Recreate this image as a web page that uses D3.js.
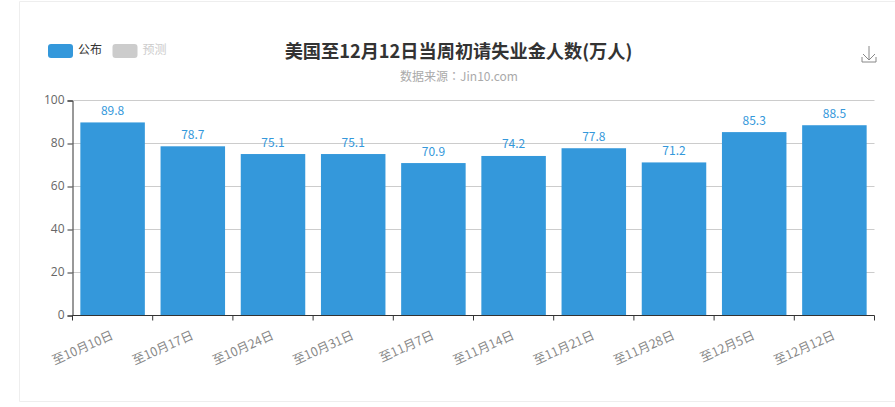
<!DOCTYPE html>
<html>
<head>
<meta charset="utf-8">
<script src="https://cdn.jsdelivr.net/npm/d3@7"></script>
<style>
  html, body { margin: 0; padding: 0; background: #fff; overflow: hidden; }
  text { font-family: "Noto Sans CJK SC", "Open Sans", sans-serif; }
</style>
</head>
<body>
<svg id="chart"></svg>
<script>
const categories = ['至10月10日', '至10月17日', '至10月24日', '至10月31日', '至11月7日',
  '至11月14日', '至11月21日', '至11月28日', '至12月5日', '至12月12日'];
const published = [89.8, 78.7, 75.1, 75.1, 70.9, 74.2, 77.8, 71.2, 85.3, 88.5];
const yTicks = [0, 20, 40, 60, 80, 100];
const legendItems = [
  { name: '公布', color: '#3498db', text: '#333' },
  { name: '预测', color: '#cccccc', text: '#ccc' }
];
const chartTitle = '美国至12月12日当周初请失业金人数(万人)';
const chartSource = '数据来源：Jin10.com';

const width = 895, height = 407;
const plot = { left: 72.5, right: 874.5, top: 100.5, bottom: 315.5 };

const svg = d3.select('#chart').attr('width', width).attr('height', height)
  .style('display', 'block');

// Card border, only three sides are visible in the window
svg.append('path')
  .attr('d', `M ${width},1.5 H 19.5 V 401.5 H ${width}`)
  .attr('fill', 'none')
  .attr('stroke', '#eeeeee');

const x = d3.scaleBand().domain(categories).range([plot.left, plot.right]);
const y = d3.scaleLinear().domain([0, 100]).range([plot.bottom, plot.top]);
const barWidth = 64.5;

// Grid
svg.append('g').selectAll('line')
  .data(yTicks.filter(d => d > 0))
  .enter().append('line')
  .attr('x1', plot.left).attr('x2', plot.right)
  .attr('y1', d => y(d)).attr('y2', d => y(d))
  .attr('stroke', '#cccccc');

// Bars
svg.append('g').selectAll('rect')
  .data(published)
  .enter().append('rect')
  .attr('x', (d, i) => x(categories[i]) + (x.bandwidth() - barWidth) / 2)
  .attr('y', d => y(d))
  .attr('width', barWidth)
  .attr('height', d => y(0) - y(d))
  .attr('fill', '#3498db');

// Value labels
svg.append('g').selectAll('text')
  .data(published)
  .enter().append('text')
  .text(d => d.toFixed(1))
  .attr('x', (d, i) => x(categories[i]) + x.bandwidth() / 2)
  .attr('y', d => y(d) - 7.5)
  .attr('text-anchor', 'middle')
  .attr('font-size', 12)
  .attr('fill', '#3498db');

// Y axis
const yAxis = svg.append('g')
  .attr('transform', `translate(${plot.left},0)`)
  .call(d3.axisLeft(y).tickValues(yTicks).tickSize(5).tickPadding(3));
yAxis.selectAll('line').attr('stroke', '#333');
yAxis.select('.domain').attr('stroke', '#333');
yAxis.selectAll('text').attr('font-size', 12).attr('fill', '#666')
  .attr('transform', 'translate(0,-1)')
  .style('font-family', '"Open Sans", sans-serif');

// X axis, ticks sit on the band edges
const xEdges = d3.range(categories.length + 1).map(i => plot.left + i * x.step());
const xAxis = svg.append('g');
xAxis.append('line')
  .attr('x1', plot.left).attr('x2', plot.right)
  .attr('y1', plot.bottom).attr('y2', plot.bottom)
  .attr('stroke', '#333');
xAxis.selectAll('line.tick')
  .data(xEdges)
  .enter().append('line')
  .attr('class', 'tick')
  .attr('x1', d => d).attr('x2', d => d)
  .attr('y1', plot.bottom).attr('y2', plot.bottom + 5)
  .attr('stroke', '#333');
xAxis.selectAll('text')
  .data(categories)
  .enter().append('text')
  .text(d => d)
  .attr('text-anchor', 'end')
  .attr('font-size', 12.5)
  .attr('fill', '#888')
  .attr('transform', d => `translate(${x(d) + x.bandwidth() / 2 - 2},${plot.bottom + 15}) rotate(-24)`)
  .attr('dy', '0.7em');

// Legend
const legend = svg.append('g');
legendItems.forEach((item, i) => {
  const lx = 48 + i * 64.5;
  legend.append('rect')
    .attr('x', lx).attr('y', 44)
    .attr('width', 25).attr('height', 14).attr('rx', 3)
    .attr('fill', item.color);
  legend.append('text')
    .text(item.name)
    .attr('x', lx + 30).attr('y', 54)
    .attr('font-size', 12)
    .attr('fill', item.text);
});

// Title
svg.append('text')
  .text(chartTitle)
  .attr('x', 458.5).attr('y', 58)
  .attr('text-anchor', 'middle')
  .attr('font-size', 18.2)
  .attr('font-weight', 700)
  .attr('fill', '#333');
svg.append('text')
  .text(chartSource)
  .attr('x', 459).attr('y', 81)
  .attr('text-anchor', 'middle')
  .attr('font-size', 12)
  .attr('fill', '#aaa')
  .style('font-family', '"Noto Sans CJK TC", sans-serif');

// Download icon
svg.append('path')
  .attr('d', 'M 869,46 V 60 M 863,54 L 869,60 L 875,54 M 862,57 V 62 H 876 V 57')
  .attr('fill', 'none')
  .attr('stroke', '#888')
  .attr('stroke-width', 1);
</script>
</body>
</html>
